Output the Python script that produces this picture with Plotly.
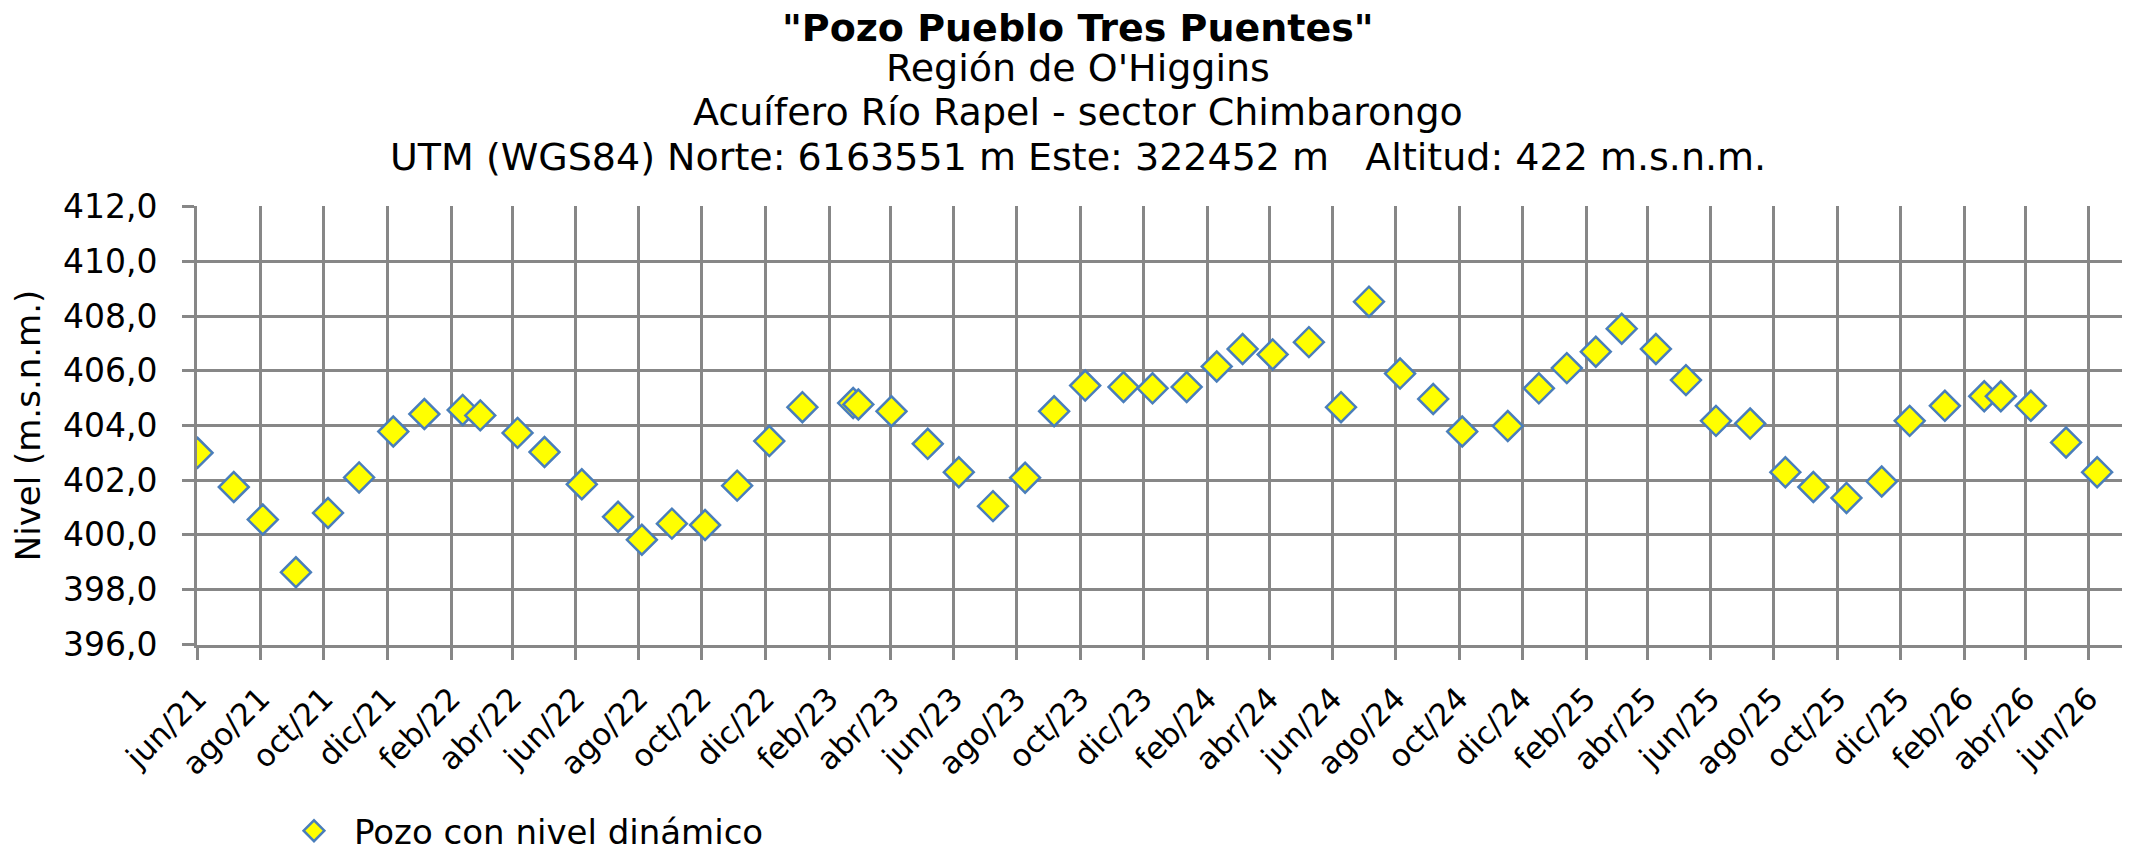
import plotly.graph_objects as go

# lecturas del pozo (fecha, nivel en m.s.n.m.)
fechas = [
    "2021-06-01", "2021-07-06", "2021-08-03", "2021-09-04", "2021-10-05", "2021-11-04",
    "2021-12-07", "2022-01-06", "2022-02-12", "2022-03-01", "2022-04-06", "2022-05-02",
    "2022-06-07", "2022-07-12", "2022-08-04", "2022-09-02", "2022-10-04", "2022-11-04",
    "2022-12-05", "2023-01-06", "2023-02-24", "2023-03-01", "2023-04-02", "2023-05-07",
    "2023-06-06", "2023-07-09", "2023-08-09", "2023-09-06", "2023-10-06", "2023-11-12",
    "2023-12-10", "2024-01-12", "2024-02-10", "2024-03-06", "2024-04-04", "2024-05-09",
    "2024-06-09", "2024-07-06", "2024-08-05", "2024-09-06", "2024-10-04", "2024-11-17",
    "2024-12-17", "2025-01-13", "2025-02-10", "2025-03-07", "2025-04-09", "2025-05-08",
    "2025-06-06", "2025-07-09", "2025-08-12", "2025-09-08", "2025-10-10", "2025-11-13",
    "2025-12-10", "2026-01-13", "2026-02-20", "2026-03-08", "2026-04-06", "2026-05-10",
    "2026-06-09",
]
niveles = [
    403.0, 401.75, 400.56, 398.63, 400.8, 402.1,
    403.78, 404.42, 404.57, 404.37, 403.73, 403.03,
    401.85, 400.66, 399.82, 400.41, 400.36, 401.8,
    403.43, 404.67, 404.82, 404.77, 404.52, 403.33,
    402.29, 401.05, 402.09, 404.52, 405.46, 405.41,
    405.36, 405.41, 406.16, 406.8, 406.6, 407.05,
    404.67, 408.53, 405.9, 404.97, 403.78, 403.98,
    405.36, 406.1, 406.7, 407.54, 406.8, 405.66,
    404.17, 404.07, 402.29, 401.75, 401.35, 401.95,
    404.17, 404.72, 405.07, 405.07, 404.72, 403.38,
    402.29,
]

# marcas del eje x, cada dos meses
tick_fechas = [
    "2021-06-01", "2021-08-01", "2021-10-01", "2021-12-01", "2022-02-01", "2022-04-01",
    "2022-06-01", "2022-08-01", "2022-10-01", "2022-12-01", "2023-02-01", "2023-04-01",
    "2023-06-01", "2023-08-01", "2023-10-01", "2023-12-01", "2024-02-01", "2024-04-01",
    "2024-06-01", "2024-08-01", "2024-10-01", "2024-12-01", "2025-02-01", "2025-04-01",
    "2025-06-01", "2025-08-01", "2025-10-01", "2025-12-01", "2026-02-01", "2026-04-01",
    "2026-06-01",
]
tick_textos = [
    "jun/21", "ago/21", "oct/21", "dic/21", "feb/22", "abr/22",
    "jun/22", "ago/22", "oct/22", "dic/22", "feb/23", "abr/23",
    "jun/23", "ago/23", "oct/23", "dic/23", "feb/24", "abr/24",
    "jun/24", "ago/24", "oct/24", "dic/24", "feb/25", "abr/25",
    "jun/25", "ago/25", "oct/25", "dic/25", "feb/26", "abr/26",
    "jun/26",
]

titulos = [
    "<b>\"Pozo Pueblo Tres Puentes\"</b>",
    "Región de O'Higgins",
    "Acuífero Río Rapel - sector Chimbarongo",
    "UTM (WGS84) Norte: 6163551 m Este: 322452 m   Altitud: 422 m.s.n.m.",
]

fuente = "DejaVu Sans"
gris = "#878787"

fig = go.Figure()

fig.add_trace(go.Scatter(
    x=fechas,
    y=niveles,
    mode="markers",
    name="Pozo con nivel dinámico",
    marker=dict(symbol="diamond", size=23, color="#ffff00",
                line=dict(color="#4a7ebb", width=2.5)),
))

# cuatro líneas del título (centro en píxeles de página)
for texto, ypix in zip(titulos, [28, 68, 112, 157]):
    fig.add_annotation(
        text=texto, xref="paper", yref="paper",
        x=(1078 - 197) / 1925, y=(645 - ypix) / 439,
        xanchor="center", yanchor="middle", showarrow=False,
        font=dict(family=fuente, size=38, color="black"),
    )

# la página agrega 8 px de margen al cuerpo: la figura se reduce en esa medida
fig.update_layout(
    width=2122,
    height=845,
    margin=dict(l=189, r=8, t=198, b=208, autoexpand=False),
    paper_bgcolor="white",
    plot_bgcolor="white",
    separators=",.",
    font=dict(family=fuente, size=33, color="black"),
    showlegend=True,
    legend=dict(x=0.04, y=-0.424, xanchor="left", yanchor="middle",
                itemwidth=70,
                font=dict(family=fuente, size=34), bgcolor="rgba(0,0,0,0)"),
)

fig.update_xaxes(
    type="date",
    range=["2021-05-31 12:00", "2026-07-03"],
    tickvals=tick_fechas,
    ticktext=tick_textos,
    tickangle=-45,
    tickfont=dict(family=fuente, size=31),
    ticklabelstandoff=8,
    showgrid=True,
    gridcolor=gris,
    gridwidth=3,
    ticks="outside",
    ticklen=12,
    tickwidth=3,
    tickcolor=gris,
    showline=True,
    linecolor=gris,
    linewidth=3,
    zeroline=False,
)

fig.update_yaxes(
    range=[395.97, 412.03],
    tickvals=[396, 398, 400, 402, 404, 406, 408, 410, 412],
    tickformat=".1f",
    tickfont=dict(family=fuente, size=33),
    ticklabelstandoff=18,
    showgrid=True,
    gridcolor=gris,
    gridwidth=3,
    ticks="outside",
    ticklen=12,
    tickwidth=3,
    tickcolor=gris,
    showline=True,
    linecolor=gris,
    linewidth=3,
    zeroline=False,
    title=dict(text="Nivel (m.s.n.m.)", font=dict(family=fuente, size=34), standoff=32),
)

fig.write_html("out.html")
